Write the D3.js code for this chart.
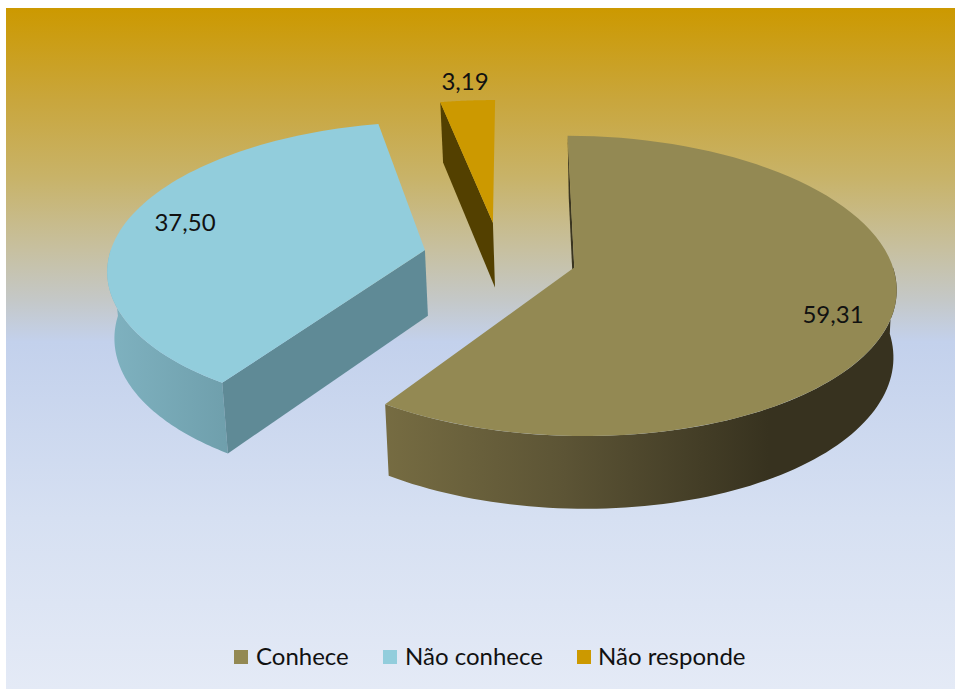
<!DOCTYPE html>
<html><head><meta charset="utf-8">
<script src="https://cdn.jsdelivr.net/npm/d3@7"></script>
<style>html,body{margin:0;padding:0;background:#fff}svg{display:block}</style>
</head><body><div id="c"></div>
<script>
const categories = ["Conhece", "Não conhece", "Não responde"];
const values = [59.31, 37.50, 3.19];
const valueLabels = ["59,31", "37,50", "3,19"];
const colors = ["#938953", "#92CDDC", "#CC9900"];
const edgeColors = ["#3a3520", "#5f8a96", "#534000"];
const arcStops = [[["#766c42",0],["#5c5435",.35],["#37321f",.75],["#37321f",1]], [["#7fb2c0",0],["#6f9fac",1]], [["#534000",0],["#534000",1]]];

const W = 955, H = 689;
const svg = d3.select("#c").append("svg").attr("width", W).attr("height", H);
const defs = svg.append("defs");
const bg = defs.append("linearGradient").attr("id","bg").attr("x1",0).attr("y1",0).attr("x2",0).attr("y2",1);
[[0,"#cc9900"],[.135,"#c9a63c"],[.25,"#c8b369"],[.355,"#c7c0a0"],[.43,"#c4c8c8"],[.49,"#c3d1ec"],[.75,"#d6e0f2"],[1,"#e4eaf6"]]
  .forEach(s=>bg.append("stop").attr("offset",s[0]).attr("stop-color",s[1]));
svg.append("rect").attr("x",6).attr("y",8).attr("width",W-6).attr("height",H-8).attr("fill","url(#bg)");

// Perspective projection of the tilted pie
const cx = 500, cy = 257, R = 316, d = 2600, tilt = 0.46, thick = 66, explode = 77;
const project = (X, V, low) => {
  const k = d / (d + V), b = low ? 0.982 : 1;
  const x = cx + X * k;
  return [low ? x + (650 - x) * 0.0133 : x, cy - V * tilt * k * b + (low ? thick * k : 0)];
};
const startDeg = 0.3;
const pie = d3.pie().sort(null).startAngle(startDeg*Math.PI/180).endAngle((360+startDeg)*Math.PI/180);
const slices = pie(values);
const line = d3.line();
const g = svg.append("g");

const offset = s => { const m = (s.startAngle + s.endAngle) / 2; return [explode*Math.sin(m), explode*Math.cos(m)]; };
const pt = (s, a, r, low) => { const o = offset(s); return project(o[0] + r*Math.sin(a), o[1] + r*Math.cos(a), low); };
const arcPts = (s, a0, a1, low) => d3.range(0, 81).map(i => pt(s, a0 + (a1-a0)*i/80, R, low));

slices.forEach((s,i) => {
  const a0 = s.startAngle, a1 = s.endAngle;
  const f0 = Math.max(a0, Math.PI/2), f1 = Math.min(a1, 3*Math.PI/2);
  if (f1 > f0) {
    const top = arcPts(s, f0, f1, false), low = arcPts(s, f1, f0, true);
    const xs = top.map(p=>p[0]).concat(low.map(p=>p[0]));
    const id = "w"+i;
    const gr = defs.append("linearGradient").attr("id",id).attr("gradientUnits","userSpaceOnUse")
      .attr("x1", d3.min(xs)).attr("x2", d3.max(xs)).attr("y1",0).attr("y2",0);
    const stops = i===0 ? arcStops[0] : arcStops[1];
    stops.forEach(t=>gr.append("stop").attr("offset",t[1]).attr("stop-color",t[0]));
    g.append("path").attr("d", line(top.concat(low))+"Z").attr("fill","url(#"+id+")");
  }
  const wall = [pt(s,0,0,false), pt(s,a0,R,false), pt(s,a0,R,true), pt(s,0,0,true)];
  g.append("path").attr("d", line(wall)+"Z").attr("fill", edgeColors[i]);
  const face = [pt(s,0,0,false)].concat(arcPts(s,a0,a1,false));
  g.append("path").attr("d", line(face)+"Z").attr("fill", colors[i]);
});

const labelFont = "Lato, 'Open Sans', sans-serif";
const labelPos = [[833,313],[185,221],[465,80]];
g.selectAll("text.v").data(valueLabels).join("text").attr("class","v")
  .attr("x",(t,i)=>labelPos[i][0]).attr("y",(t,i)=>labelPos[i][1])
  .attr("text-anchor","middle").attr("dominant-baseline","central")
  .attr("font-family",labelFont).attr("font-size",24).attr("fill","#111").text(t=>t);

const legendX = [[234,256],[383,405],[577,598]];
const lg = svg.append("g");
categories.forEach((c,i)=>{
  lg.append("rect").attr("x",legendX[i][0]).attr("y",650).attr("width",14).attr("height",14).attr("fill",colors[i]);
  lg.append("text").attr("x",legendX[i][1]).attr("y",665).attr("font-family",labelFont)
    .attr("font-size",24).attr("fill","#111").text(c);
});
</script></body></html>
